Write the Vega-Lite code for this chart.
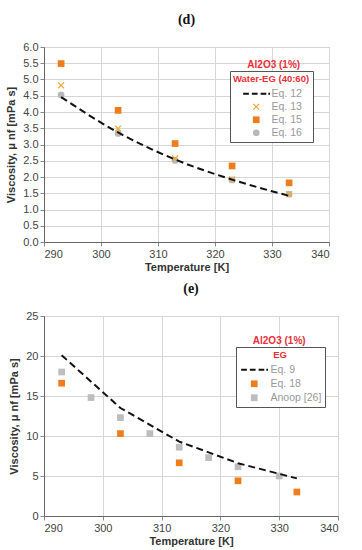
{
  "$schema": "https://vega.github.io/schema/vega-lite/v6.json",
  "padding": {"top": 12, "left": 5, "right": 5, "bottom": 2},
  "background": "white",
  "spacing": 8,
  "config": {
    "font": "Liberation Sans",
    "view": {"stroke": "#888", "strokeWidth": 1},
    "axis": {"labelColor": "#444", "labelFontSize": 11, "titleFontSize": 11, "titleFontWeight": "bold", "titleColor": "#333", "gridColor": "#d6d6d6", "domain": true, "domainColor": "#666", "tickColor": "#888", "tickSize": 4},
    "title": {"font": "Liberation Serif", "fontSize": 14, "fontWeight": "bold", "color": "#111", "offset": 14},
    "legend": {"labelFont": "Liberation Sans", "labelFontSize": 10.5, "labelColor": "#999", "titleFont": "Liberation Sans", "titleFontSize": 9.5, "titleFontWeight": "bold", "titleColor": "#e8303a", "titleAnchor": "middle"}
  },
  "resolve": {"scale": {"color": "independent", "shape": "independent"}, "legend": {"color": "independent", "shape": "independent"}},
  "vconcat": [
    {
      "title": "(d)",
      "width": 285,
      "height": 195,
      "layer": [
        {
          "data": {"values": [
            {"series": "Eq. 16", "T": 293, "v": 4.53},
            {"series": "Eq. 16", "T": 303, "v": 3.34},
            {"series": "Eq. 16", "T": 313, "v": 2.51},
            {"series": "Eq. 16", "T": 323, "v": 1.91},
            {"series": "Eq. 16", "T": 333, "v": 1.47},
            {"series": "Eq. 13", "T": 293, "v": 4.82},
            {"series": "Eq. 13", "T": 303, "v": 3.49},
            {"series": "Eq. 13", "T": 313, "v": 2.57},
            {"series": "Eq. 13", "T": 323, "v": 1.93},
            {"series": "Eq. 13", "T": 333, "v": 1.47},
            {"series": "Eq. 15", "T": 293, "v": 5.49},
            {"series": "Eq. 15", "T": 303, "v": 4.05},
            {"series": "Eq. 15", "T": 313, "v": 3.03},
            {"series": "Eq. 15", "T": 323, "v": 2.34},
            {"series": "Eq. 15", "T": 333, "v": 1.82}
          ]},
          "mark": {"type": "point", "filled": true, "opacity": 1, "size": 45},
          "encoding": {
            "x": {"field": "T", "type": "quantitative", "scale": {"domain": [290, 340], "nice": false}, "axis": {"values": [290, 300, 310, 320, 330, 340], "title": "Temperature [K]", "titlePadding": 2}},
            "y": {"field": "v", "type": "quantitative", "scale": {"domain": [0, 6], "nice": false}, "axis": {"values": [0, 0.5, 1, 1.5, 2, 2.5, 3, 3.5, 4, 4.5, 5, 5.5, 6], "format": ".1f", "title": "Viscosity, μ nf [mPa s]", "titlePadding": 6}},
            "color": {"field": "series", "type": "nominal", "scale": {"domain": ["Eq. 12", "Eq. 13", "Eq. 15", "Eq. 16"], "range": ["#111", "#f2a735", "#ef7d1e", "#b8b8b8"]},
              "legend": {"title": "Water-EG (40:60)", "orient": "none", "legendX": 186, "legendY": 24, "strokeColor": "#555", "fillColor": "white", "padding": 3, "symbolOffset": 10, "titlePadding": 5, "rowPadding": 2, "symbolSize": 45, "labelOffset": 10, "offset": 0}},
            "shape": {"field": "series", "type": "nominal", "scale": {"domain": ["Eq. 12", "Eq. 13", "Eq. 15", "Eq. 16"], "range": [
              "M-3.9,-0.3H-2.2V0.3H-3.9Z M-1.3,-0.3H0.4V0.3H-1.3Z M1.3,-0.3H3V0.3H1.3Z M3.6,-0.3H4.1V0.3H3.6Z",
              "M-1,-0.75L-0.75,-1L0,-0.25L0.75,-1L1,-0.75L0.25,0L1,0.75L0.75,1L0,0.25L-0.75,1L-1,0.75L-0.25,0Z",
              "square", "circle"]},
              "legend": {"title": "Water-EG (40:60)", "orient": "none", "legendX": 186, "legendY": 24, "strokeColor": "#555", "fillColor": "white", "padding": 3, "symbolOffset": 10, "titlePadding": 5, "rowPadding": 2, "symbolSize": 45, "labelOffset": 10, "offset": 0}}
          }
        },
        {
          "data": {"values": [
            {"series": "Eq. 12", "T": 293, "v": 4.46},
            {"series": "Eq. 12", "T": 303, "v": 3.37},
            {"series": "Eq. 12", "T": 313, "v": 2.54},
            {"series": "Eq. 12", "T": 323, "v": 1.92},
            {"series": "Eq. 12", "T": 333, "v": 1.42}
          ]},
          "mark": {"type": "line", "color": "#111", "strokeWidth": 2, "strokeDash": [7, 4], "interpolate": "monotone"},
          "encoding": {
            "x": {"field": "T", "type": "quantitative", "axis": {"values": [290, 300, 310, 320, 330, 340], "title": "Temperature [K]", "titlePadding": 2}},
            "y": {"field": "v", "type": "quantitative", "axis": {"values": [0, 0.5, 1, 1.5, 2, 2.5, 3, 3.5, 4, 4.5, 5, 5.5, 6], "format": ".1f", "title": "Viscosity, μ nf [mPa s]", "titlePadding": 6}}
          }
        },
        {
          "data": {"values": [{"label": "Al2O3 (1%)"}]},
          "mark": {"type": "text", "color": "#e8303a", "fontWeight": "bold", "fontSize": 10},
          "encoding": {
            "x": {"datum": 330.3, "type": "quantitative", "axis": {"values": [290, 300, 310, 320, 330, 340], "title": "Temperature [K]", "titlePadding": 2}},
            "y": {"datum": 5.44, "type": "quantitative", "axis": {"values": [0, 0.5, 1, 1.5, 2, 2.5, 3, 3.5, 4, 4.5, 5, 5.5, 6], "format": ".1f", "title": "Viscosity, μ nf [mPa s]", "titlePadding": 6}},
            "text": {"field": "label", "type": "nominal"}
          }
        }
      ]
    },
    {
      "title": "(e)",
      "width": 294,
      "height": 200,
      "layer": [
        {
          "data": {"values": [
            {"series": "Anoop [26]", "T": 293, "v": 18.0},
            {"series": "Anoop [26]", "T": 298, "v": 14.8},
            {"series": "Anoop [26]", "T": 303, "v": 12.3},
            {"series": "Anoop [26]", "T": 308, "v": 10.3},
            {"series": "Anoop [26]", "T": 313, "v": 8.6},
            {"series": "Anoop [26]", "T": 318, "v": 7.3},
            {"series": "Anoop [26]", "T": 323, "v": 6.15},
            {"series": "Anoop [26]", "T": 330, "v": 5.0},
            {"series": "Eq. 18", "T": 293, "v": 16.6},
            {"series": "Eq. 18", "T": 303, "v": 10.3},
            {"series": "Eq. 18", "T": 313, "v": 6.65},
            {"series": "Eq. 18", "T": 323, "v": 4.4},
            {"series": "Eq. 18", "T": 333, "v": 3.0}
          ]},
          "mark": {"type": "point", "filled": true, "opacity": 1, "size": 45},
          "encoding": {
            "x": {"field": "T", "type": "quantitative", "scale": {"domain": [290, 340], "nice": false}, "axis": {"values": [290, 300, 310, 320, 330, 340], "title": "Temperature [K]", "titlePadding": 2}},
            "y": {"field": "v", "type": "quantitative", "scale": {"domain": [0, 25], "nice": false}, "axis": {"values": [0, 5, 10, 15, 20, 25], "title": "Viscosity, μ nf [mPa s]", "titlePadding": 6}},
            "color": {"field": "series", "type": "nominal", "scale": {"domain": ["Eq. 9", "Eq. 18", "Anoop [26]"], "range": ["#111", "#ef7d1e", "#bdbdbd"]},
              "legend": {"title": "EG", "orient": "none", "legendX": 192, "legendY": 31, "strokeColor": "#555", "fillColor": "white", "padding": 3, "symbolOffset": 10, "titlePadding": 5, "rowPadding": 3, "symbolSize": 45, "labelOffset": 11, "offset": 0}},
            "shape": {"field": "series", "type": "nominal", "scale": {"domain": ["Eq. 9", "Eq. 18", "Anoop [26]"], "range": [
              "M-3.9,-0.3H-2.2V0.3H-3.9Z M-1.3,-0.3H0.4V0.3H-1.3Z M1.3,-0.3H3V0.3H1.3Z M3.6,-0.3H4.1V0.3H3.6Z",
              "square", "square"]},
              "legend": {"title": "EG", "orient": "none", "legendX": 192, "legendY": 31, "strokeColor": "#555", "fillColor": "white", "padding": 3, "symbolOffset": 10, "titlePadding": 5, "rowPadding": 3, "symbolSize": 45, "labelOffset": 11, "offset": 0}}
          }
        },
        {
          "data": {"values": [
            {"series": "Eq. 9", "T": 293, "v": 20.1},
            {"series": "Eq. 9", "T": 303, "v": 13.5},
            {"series": "Eq. 9", "T": 313, "v": 9.3},
            {"series": "Eq. 9", "T": 323, "v": 6.6},
            {"series": "Eq. 9", "T": 333, "v": 4.7}
          ]},
          "mark": {"type": "line", "color": "#111", "strokeWidth": 2, "strokeDash": [7, 4]},
          "encoding": {
            "x": {"field": "T", "type": "quantitative", "axis": {"values": [290, 300, 310, 320, 330, 340], "title": "Temperature [K]", "titlePadding": 2}},
            "y": {"field": "v", "type": "quantitative", "axis": {"values": [0, 5, 10, 15, 20, 25], "title": "Viscosity, μ nf [mPa s]", "titlePadding": 6}}
          }
        },
        {
          "data": {"values": [{"label": "Al2O3 (1%)"}]},
          "mark": {"type": "text", "color": "#e8303a", "fontWeight": "bold", "fontSize": 10},
          "encoding": {
            "x": {"datum": 330.0, "type": "quantitative", "axis": {"values": [290, 300, 310, 320, 330, 340], "title": "Temperature [K]", "titlePadding": 2}},
            "y": {"datum": 21.9, "type": "quantitative", "axis": {"values": [0, 5, 10, 15, 20, 25], "title": "Viscosity, μ nf [mPa s]", "titlePadding": 6}},
            "text": {"field": "label", "type": "nominal"}
          }
        }
      ]
    }
  ]
}
